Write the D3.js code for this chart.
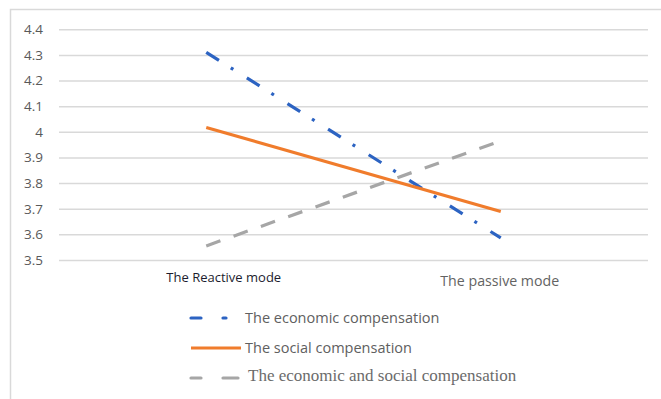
<!DOCTYPE html>
<html>
<head>
<meta charset="utf-8">
<script src="https://cdn.jsdelivr.net/npm/d3@7"></script>
<style>
  body { margin: 0; background: #fff; }
  svg { display: block; }
</style>
</head>
<body>
<svg id="chart" width="661" height="399"></svg>
<script>
// data
let categories = ["The Reactive mode", "The passive mode"];
let economic = [4.31, 3.586];
let social = [4.017, 3.689];
let econSocial = [3.555, 3.965];
let yTicks = [3.5, 3.6, 3.7, 3.8, 3.9, 4, 4.1, 4.2, 4.3, 4.4];
let seriesNames = ["The economic compensation", "The social compensation", "The economic and social compensation"];

let series = [
    {name: seriesNames[0], values: economic, color: "#2c63c2", dash: "15,14,3,16"},
    {name: seriesNames[1], values: social, color: "#f07c2c", dash: null},
    {name: seriesNames[2], values: econSocial, color: "#a6a6a6", dash: "15,14"}
];

let svg = d3.select("#chart");
let margin = {top: 29.3, right: 13, bottom: 139, left: 59};
let W = 661, H = 399;

// frame (top and left edges visible)
svg.append("path")
    .attr("d", `M10.5,${H} V9.5 H${W}`)
    .attr("fill", "none")
    .attr("stroke", "#d9d9d9")
    .attr("stroke-width", 1.5);

let x = d3.scaleBand()
    .domain(categories)
    .range([margin.left, W - margin.right]);

let y = d3.scaleLinear()
    .domain([3.5, 4.4])
    .range([H - margin.bottom, margin.top]);

// gridlines + tick labels
let yAxis = g => g
    .attr("transform", `translate(${margin.left},0)`)
    .call(d3.axisLeft(y)
        .tickValues(yTicks)
        .tickFormat(d => d3.format("")(+d.toFixed(1)))
        .tickSize(-(W - margin.right - margin.left))
        .tickPadding(16))
    .call(g => g.select(".domain").remove())
    .call(g => g.selectAll(".tick line")
        .attr("stroke", "#d9d9d9")
        .attr("stroke-width", 1.5))
    .call(g => g.selectAll(".tick text")
        .attr("fill", "#595959")
        .style("font-family", "'Open Sans', sans-serif")
        .style("font-size", "13.5px"));

svg.append("g").call(yAxis);

// lines
let line = d3.line()
    .x((d, i) => x(categories[i]) + x.bandwidth() / 2)
    .y(d => y(d));

svg.append("g")
    .selectAll("path.data")
    .data(series)
    .enter().append("path")
    .attr("class", "data")
    .attr("d", d => line(d.values))
    .attr("fill", "none")
    .attr("stroke", d => d.color)
    .attr("stroke-width", 3.2)
    .attr("stroke-dasharray", d => d.dash);

// category labels (the first one is drawn in a darker, different style)
let catStyle = [
    {dx: 17.5, dy: 277, fill: "#1c1c2e", weight: 500, size: "13px"},
    {dx: -1, dy: 281, fill: "#636363", weight: 400, size: "14.2px"}
];
svg.append("g")
    .selectAll("text")
    .data(categories)
    .enter().append("text")
    .attr("x", (d, i) => x(d) + x.bandwidth() / 2 + catStyle[i].dx)
    .attr("y", (d, i) => catStyle[i].dy)
    .attr("dy", "0.35em")
    .attr("text-anchor", "middle")
    .attr("fill", (d, i) => catStyle[i].fill)
    .style("font-family", "'Open Sans', sans-serif")
    .style("font-weight", (d, i) => catStyle[i].weight)
    .style("font-size", (d, i) => catStyle[i].size)
    .text(d => d);

// legend
let legendY = [318, 348, 378];
let legend = svg.append("g")
    .selectAll("g")
    .data(series)
    .enter().append("g")
    .attr("transform", (d, i) => `translate(191,${legendY[i]})`);

legend.append("line")
    .attr("x1", 0)
    .attr("x2", 50)
    .attr("stroke", d => d.color)
    .attr("stroke-width", 3.2)
    .attr("stroke-dasharray", (d, i) => i === 0 ? "10,22,3,20" : (i === 2 ? "10,22,15" : null))
    .attr("stroke-linecap", (d, i) => i === 1 ? "butt" : "round");

legend.append("text")
    .attr("x", (d, i) => i === 2 ? 57 : 54)
    .attr("y", (d, i) => i === 2 ? -3 : 0)
    .attr("dy", "0.35em")
    .attr("fill", (d, i) => i === 2 ? "#6b6b6b" : "#606060")
    .style("font-family", (d, i) => i === 2 ? "'Liberation Serif', serif" : "'Open Sans', sans-serif")
    .style("font-size", (d, i) => i === 2 ? "17px" : "14.5px")
    .text(d => d.name);
</script>
</body>
</html>
